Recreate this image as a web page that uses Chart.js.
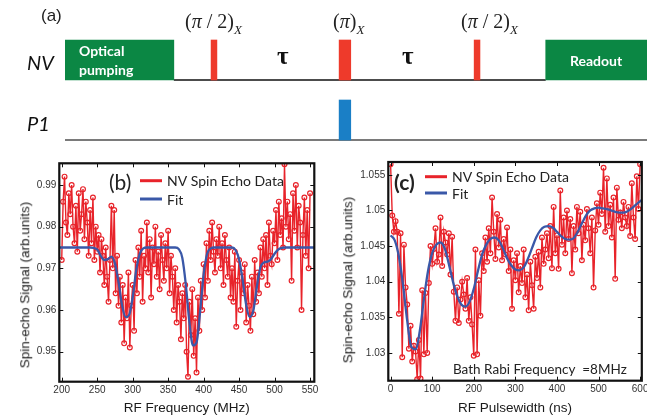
<!DOCTYPE html>
<html>
<head>
<meta charset="utf-8">
<script src="https://cdn.jsdelivr.net/npm/chart.js@4.4.1/dist/chart.umd.min.js"></script>
<style>
  html, body { margin: 0; padding: 0; background: #fff; }
  body { width: 647px; height: 416px; position: relative; overflow: hidden; font-family: "Liberation Sans", Arial, sans-serif; }
  .caixa { position: absolute; }
  .rotulo { position: absolute; white-space: nowrap; line-height: 1; }
  .titulo_y { position: absolute; white-space: nowrap; line-height: 1; font-size: 13.5px; color: #1a1a1a; transform: translate(-50%, -50%) rotate(-90deg); }
  .mat { font-family: "Liberation Serif", "DejaVu Serif", serif; font-size: 20px; color: #222; }
  .mat sub { font-size: 13px; font-style: italic; vertical-align: -6px; }
  .branco { color: #fff; font-family: Lato, "Open Sans", sans-serif; font-weight: bold; font-size: 14px; }
</style>
</head>
<body>

<div class="caixa" style="left:0;top:0;width:647px;height:150px"><canvas id="sequencia"></canvas></div>
<div class="caixa" style="left:0;top:150px;width:325px;height:266px"><canvas id="espectro"></canvas></div>
<div class="caixa" style="left:330px;top:150px;width:317px;height:266px"><canvas id="rabi"></canvas></div>

<!-- textos do painel (a) -->
<div class="rotulo" style="left:41px;top:7px;font-size:17px;color:#222">(a)</div>
<div class="rotulo mat" style="left:185px;top:11px">(<i>π</i> / 2)<sub>X</sub></div>
<div class="rotulo mat" style="left:333px;top:11px">(<i>π</i>)<sub>X</sub></div>
<div class="rotulo mat" style="left:461px;top:11px">(<i>π</i> / 2)<sub>X</sub></div>
<div class="rotulo" style="left:27px;top:52px;font-family:Lato,sans-serif;font-style:italic;font-size:20px;color:#111">NV</div>
<div class="rotulo" style="left:27px;top:113px;font-family:Lato,sans-serif;font-style:italic;font-size:20px;color:#111">P1</div>
<div class="rotulo branco" style="left:79px;top:44px">Optical</div>
<div class="rotulo branco" style="left:79px;top:63px">pumping</div>
<div class="rotulo branco" style="left:570px;top:54px">Readout</div>
<div class="rotulo" style="left:277px;top:43px;font-family:'Liberation Serif',serif;font-weight:bold;font-size:25px;color:#111">τ</div>
<div class="rotulo" style="left:402px;top:43px;font-family:'Liberation Serif',serif;font-weight:bold;font-size:25px;color:#111">τ</div>

<!-- titulos verticais -->
<div class="titulo_y" style="left:25px;top:285px">Spin-echo Signal (arb.units)</div>
<div class="titulo_y" style="left:348px;top:280px">Spin-echo Signal (arb.units)</div>

<script>
// ---------------- painel (a): sequencia de pulsos (unidades de tempo arbitrarias)
const filas = ['NV', 'P1'];
const pulsos_nome   = ['Optical pumping', '(π/2)X', '(π)X', '(π/2)X', 'Readout', 'P1 (π)'];
const pulsos_fila   = [0, 0, 0, 0, 0, 1];
const pulsos_inicio = [0, 25.1, 47.1, 70.3, 82.6, 47.1];
const pulsos_fim    = [18.7, 26.1, 49.1, 71.3, 100, 49.1];
const pulsos_cor    = ['#0b8744', '#ee3a2b', '#ee3a2b', '#ee3a2b', '#0b8744', '#1a7fc6'];
const base_fila   = [0, 1];
const base_inicio = [18.7, 0];
const base_fim    = [82.6, 100];
const base_cor    = ['#111', '#7a7a7a'];

// ---------------- painel (b): eco vs frequencia RF (MHz)
const freq_inicio = 200;
const freq_passo = 2;
const eco_freq = [
  0.972, 0.986, 0.992, 0.981, 0.978, 0.988, 0.983, 0.990, 0.980, 0.976,
  0.985, 0.974, 0.988, 0.979, 0.983, 0.989, 0.977, 0.986, 0.981, 0.973,
  0.984, 0.976, 0.987, 0.972, 0.980, 0.974, 0.978, 0.969, 0.977, 0.973,
  0.966, 0.975, 0.968, 0.962, 0.972, 0.985, 0.970, 0.984, 0.964, 0.973,
  0.961, 0.968, 0.957, 0.966, 0.952, 0.963, 0.958, 0.969, 0.951, 0.961,
  0.966, 0.955, 0.972, 0.964, 0.975, 0.968, 0.979, 0.962, 0.973, 0.970,
  0.981, 0.969, 0.977, 0.963, 0.975, 0.971, 0.980, 0.968, 0.974, 0.965,
  0.978, 0.972, 0.967, 0.976, 0.970, 0.979, 0.964, 0.973, 0.968, 0.960,
  0.970, 0.957, 0.966, 0.962, 0.953, 0.964, 0.958, 0.966, 0.950, 0.944,
  0.962, 0.954, 0.965, 0.949, 0.958, 0.945, 0.963, 0.955, 0.967, 0.960,
  0.971, 0.963, 0.976, 0.967, 0.979, 0.972, 0.981, 0.974, 0.969, 0.977,
  0.973, 0.980, 0.970, 0.976, 0.966, 0.978, 0.972, 0.968, 0.975, 0.963,
  0.970, 0.962, 0.974, 0.956, 0.967, 0.972, 0.960, 0.969, 0.964, 0.971,
  0.957, 0.966, 0.961, 0.955, 0.968, 0.959, 0.972, 0.962, 0.969, 0.964,
  0.975, 0.968, 0.977, 0.970, 0.978, 0.966, 0.981, 0.973, 0.971, 0.979,
  0.976, 0.984, 0.972, 0.986, 0.978, 0.982, 0.975, 0.995, 0.980, 0.986,
  0.977, 0.983, 0.967, 0.988, 0.979, 0.990, 0.975, 0.985, 0.981, 0.960,
  0.978, 0.987, 0.973, 0.984, 0.970, 0.988
];
const ajuste_freq_inicio = 195;
const ajuste_freq_passo = 5;
const ajuste_freq = [
  0.975, 0.975, 0.975, 0.975, 0.975, 0.975, 0.975, 0.975, 0.975, 0.975, 0.9749,
  0.9745, 0.9730, 0.9720, 0.9722, 0.9728, 0.9712, 0.9668, 0.9612, 0.9583, 0.9588,
  0.9630, 0.9695, 0.9735, 0.9748, 0.975, 0.975, 0.975, 0.975, 0.975, 0.975, 0.975, 0.975, 0.975,
  0.9746, 0.9725, 0.9660, 0.9570, 0.9515, 0.9522, 0.9595, 0.9685, 0.9735, 0.9748,
  0.975, 0.975, 0.975, 0.975, 0.975, 0.975, 0.9744, 0.9722, 0.9672, 0.9612, 0.9583, 0.9598,
  0.9655, 0.9702, 0.9714, 0.9716, 0.9722, 0.9735, 0.9745, 0.9749,
  0.975, 0.975, 0.975, 0.975, 0.975, 0.975, 0.975, 0.975, 0.975, 0.975
];
const freq_ticks_x = [200, 250, 300, 350, 400, 450, 500, 550];
const freq_ticks_y = [0.95, 0.96, 0.97, 0.98, 0.99];

// ---------------- painel (c): eco vs largura do pulso RF (ns)
const largura_inicio = 0;
const largura_passo = 4;
const eco_largura = [
  1.0565, 1.0493, 1.0470, 1.0485, 1.0470, 1.0355, 1.0468, 1.0294, 1.0452, 1.0392,
  1.0368, 1.0306, 1.0338, 1.0288, 1.0310, 1.0302, 1.0263, 1.0318, 1.0264, 1.0388,
  1.0298, 1.0384, 1.0300, 1.0398, 1.0450, 1.0425, 1.0446, 1.0475, 1.0428, 1.0438,
  1.0490, 1.0422, 1.0470, 1.0455, 1.0438, 1.0468, 1.0410, 1.0463, 1.0386, 1.0345,
  1.0392, 1.0342, 1.0375, 1.0400, 1.0382, 1.0362, 1.0405, 1.0345, 1.0378, 1.0340,
  1.0296, 1.0445, 1.0298, 1.0402, 1.0352, 1.0440, 1.0415, 1.0462, 1.0428, 1.0475,
  1.0440, 1.0518, 1.0470, 1.0432, 1.0495, 1.0448, 1.0487, 1.0430, 1.0460, 1.0438,
  1.0476, 1.0415, 1.0445, 1.0362, 1.0430, 1.0402, 1.0440, 1.0385, 1.0422, 1.0398,
  1.0445, 1.0378, 1.0410, 1.0360, 1.0428, 1.0395, 1.0362, 1.0435, 1.0405, 1.0442,
  1.0392, 1.0462, 1.0425, 1.0445, 1.0468, 1.0433, 1.0478, 1.0419, 1.0505, 1.0440,
  1.0465, 1.0418, 1.0528, 1.0452, 1.0490, 1.0440, 1.0500, 1.0460, 1.0488, 1.0412,
  1.0478, 1.0445, 1.0505, 1.0468, 1.0498, 1.0430, 1.0480, 1.0458, 1.0502, 1.0475,
  1.0440, 1.0490, 1.0392, 1.0472, 1.0510, 1.0480, 1.0525, 1.0495, 1.0560, 1.0470,
  1.0545, 1.0478, 1.0508, 1.0462, 1.0518, 1.0404, 1.0532, 1.0487, 1.0497, 1.0475,
  1.0512, 1.0490, 1.0478, 1.0505, 1.0464, 1.0538, 1.0490, 1.0460, 1.0548, 1.0502,
  1.0565
];
const ajuste_largura_inicio = 0;
const ajuste_largura_passo = 10;
const ajuste_largura = [
  1.0465, 1.0458, 1.0435, 1.0395, 1.0345, 1.0308, 1.0305, 1.0330, 1.0375, 1.0415,
  1.0440, 1.0452, 1.0455, 1.0447, 1.0425, 1.0400, 1.0380, 1.0368, 1.0365, 1.0372,
  1.0390, 1.0415, 1.0438, 1.0452, 1.0460, 1.0462, 1.0458, 1.0447, 1.0433, 1.0423,
  1.0417, 1.0416, 1.0420, 1.0432, 1.0447, 1.0462, 1.0472, 1.0477, 1.0478, 1.0476,
  1.0470, 1.0464, 1.0460, 1.0459, 1.0461, 1.0470, 1.0482, 1.0493, 1.0500, 1.0503,
  1.0504, 1.0503, 1.0502, 1.0500, 1.0498, 1.0497, 1.0497, 1.0499, 1.0503, 1.0508,
  1.0513, 1.0516
];
const largura_ticks_x = [0, 100, 200, 300, 400, 500, 600];
const largura_ticks_y = [1.03, 1.035, 1.04, 1.045, 1.05, 1.055];

const COR_DADOS = '#e8232a';
const COR_AJUSTE = '#3a58a8';
const FONTE_EIXO = '"Liberation Sans", Arial, sans-serif';
const FONTE_LEGENDA = 'Lato, "Open Sans", sans-serif';

function pontos(inicio, passo, valores) {
  return valores.map((v, i) => ({ x: inicio + i * passo, y: v }));
}

// ---------------- painel (a)
function grafico_sequencia(id) {
  const canvas = document.getElementById(id);

  // linhas de base de cada canal, desenhadas por baixo dos pulsos
  const linhasBase = {
    id: 'linhasBase',
    beforeDatasetsDraw(chart) {
      const { ctx, scales: { x, y } } = chart;
      ctx.save();
      base_fila.forEach((f, i) => {
        const py = y.getPixelForValue(f) + 20;
        ctx.strokeStyle = base_cor[i];
        ctx.lineWidth = i === 0 ? 1.5 : 2;
        ctx.beginPath();
        ctx.moveTo(x.getPixelForValue(base_inicio[i]), py);
        ctx.lineTo(x.getPixelForValue(base_fim[i]), py);
        ctx.stroke();
      });
      ctx.restore();
    }
  };

  return new Chart(canvas, {
    type: 'bar',
    data: {
      labels: filas,
      datasets: pulsos_nome.map((nome, i) => ({
        label: nome,
        data: filas.map((f, j) => j === pulsos_fila[i] ? [pulsos_inicio[i], pulsos_fim[i]] : null),
        backgroundColor: pulsos_cor[i],
        borderWidth: 0,
        barThickness: 40,
        grouped: false
      }))
    },
    options: {
      indexAxis: 'y',
      responsive: true,
      maintainAspectRatio: false,
      animation: false,
      layout: { padding: { left: 65, top: 30, right: 0, bottom: 0 } },
      scales: {
        x: { type: 'linear', min: 0, max: 100, display: false },
        y: { type: 'category', display: false }
      },
      plugins: { legend: { display: false }, tooltip: { enabled: false } }
    },
    plugins: [linhasBase]
  });
}

// ---------------- paineis (b) e (c)
function grafico_eco(config) {
  const {
    id, painel, legendas, dados, ajuste, titulo_x,
    min_x, max_x, min_y, max_y, ticks_x, ticks_y,
    area, legenda_pos, nota
  } = config;

  const canvas = document.getElementById(id);

  // moldura preta com marcas de escala para dentro (estilo MATLAB)
  const moldura = {
    id: 'moldura',
    afterDraw(chart) {
      const { ctx, chartArea: a, scales: { x, y } } = chart;
      ctx.save();
      ctx.strokeStyle = '#111';
      ctx.lineWidth = 1;
      ctx.beginPath();
      x.ticks.forEach(t => {
        const px = Math.round(x.getPixelForValue(t.value)) + 0.5;
        ctx.moveTo(px, a.bottom); ctx.lineTo(px, a.bottom - 4);
        ctx.moveTo(px, a.top); ctx.lineTo(px, a.top + 4);
      });
      y.ticks.forEach(t => {
        const py = Math.round(y.getPixelForValue(t.value)) + 0.5;
        ctx.moveTo(a.left, py); ctx.lineTo(a.left + 4, py);
        ctx.moveTo(a.right, py); ctx.lineTo(a.right - 4, py);
      });
      ctx.stroke();
      ctx.lineWidth = 2.2;
      ctx.strokeRect(a.left, a.top, a.right - a.left, a.bottom - a.top);

      // letra do painel
      ctx.fillStyle = '#222';
      ctx.textBaseline = 'middle';
      ctx.font = painel.fonte;
      ctx.fillText(painel.texto, painel.x, painel.y);

      // legenda
      ctx.font = '14px ' + FONTE_LEGENDA;
      [COR_DADOS, COR_AJUSTE].forEach((cor, i) => {
        const ly = legenda_pos.y + i * legenda_pos.passo;
        ctx.strokeStyle = cor;
        ctx.lineWidth = 3;
        ctx.beginPath();
        ctx.moveTo(legenda_pos.x, ly);
        ctx.lineTo(legenda_pos.x + 22, ly);
        ctx.stroke();
        ctx.fillStyle = '#222';
        ctx.fillText(legendas[i], legenda_pos.x + 27, ly + 1);
      });

      if (nota) {
        ctx.font = '13.5px ' + FONTE_LEGENDA;
        ctx.fillText(nota.texto, nota.x, nota.y);
      }
      ctx.restore();
    }
  };

  const eixo = (ticks, largura) => ({
    afterBuildTicks: s => { s.ticks = ticks.map(v => ({ value: v })); },
    afterFit: s => {
      if (s.isHorizontal()) s.height = largura; else s.width = largura;
      s.paddingLeft = s.paddingRight = s.paddingTop = s.paddingBottom = 0;
    },
    grid: { display: false, drawTicks: false },
    border: { display: false },
    ticks: {
      color: '#333',
      font: { family: FONTE_EIXO, size: 10 },
      maxRotation: 0,
      autoSkip: false,
      callback: v => String(v)
    }
  });

  return new Chart(canvas, {
    type: 'line',
    data: {
      datasets: [
        {
          label: legendas[0],
          data: dados,
          order: 1,
          borderColor: COR_DADOS,
          borderWidth: 1.4,
          pointRadius: 2.4,
          pointBorderWidth: 1.2,
          pointBorderColor: COR_DADOS,
          pointBackgroundColor: 'rgba(255,255,255,0)',
          tension: 0
        },
        {
          label: legendas[1],
          data: ajuste,
          order: 0,
          borderColor: COR_AJUSTE,
          borderWidth: 2.3,
          pointRadius: 0,
          cubicInterpolationMode: 'monotone'
        }
      ]
    },
    options: {
      responsive: true,
      maintainAspectRatio: false,
      animation: false,
      layout: { padding: { left: 0, top: area.topo, right: area.direita, bottom: 0 } },
      scales: {
        x: Object.assign(eixo(ticks_x, area.eixo_x), {
          type: 'linear', min: min_x, max: max_x,
          title: {
            display: true, text: titulo_x, color: '#1a1a1a',
            font: { family: FONTE_EIXO, size: 13.5, lineHeight: 1.2 },
            padding: { top: 0, bottom: 0 }
          }
        }),
        y: Object.assign(eixo(ticks_y, area.eixo_y), {
          type: 'linear', min: min_y, max: max_y
        })
      },
      plugins: { legend: { display: false }, tooltip: { enabled: false } }
    },
    plugins: [moldura]
  });
}

grafico_sequencia('sequencia');

grafico_eco({
  id: 'espectro',
  painel: { texto: '(b)', x: 109, y: 33, fonte: '21px ' + FONTE_LEGENDA },
  legendas: ['NV Spin Echo Data', 'Fit'],
  dados: pontos(freq_inicio, freq_passo, eco_freq),
  ajuste: pontos(ajuste_freq_inicio, ajuste_freq_passo, ajuste_freq),
  titulo_x: 'RF Frequency (MHz)',
  min_x: 196.6, max_x: 556,
  min_y: 0.9428, max_y: 0.9952,
  ticks_x: freq_ticks_x,
  ticks_y: freq_ticks_y,
  area: { topo: 13.3, direita: 10.7, eixo_x: 34.3, eixo_y: 59.3 },
  legenda_pos: { x: 140, y: 30.7, passo: 18.3 }
});

grafico_eco({
  id: 'rabi',
  painel: { texto: '(c)', x: 64, y: 33, fonte: 'bold 21px ' + FONTE_LEGENDA },
  legendas: ['NV Spin Echo Data', 'Fit'],
  dados: pontos(largura_inicio, largura_passo, eco_largura),
  ajuste: pontos(ajuste_largura_inicio, ajuste_largura_passo, ajuste_largura),
  titulo_x: 'RF Pulsewidth (ns)',
  min_x: -5.5, max_x: 604,
  min_y: 1.0261, max_y: 1.0568,
  ticks_x: largura_ticks_x,
  ticks_y: largura_ticks_y,
  area: { topo: 12, direita: 3.7, eixo_x: 35.3, eixo_y: 58.3 },
  legenda_pos: { x: 95, y: 26.7, passo: 16.3 },
  nota: { texto: 'Bath Rabi Frequency  =8MHz', x: 123, y: 220 }
});
</script>
</body>
</html>
